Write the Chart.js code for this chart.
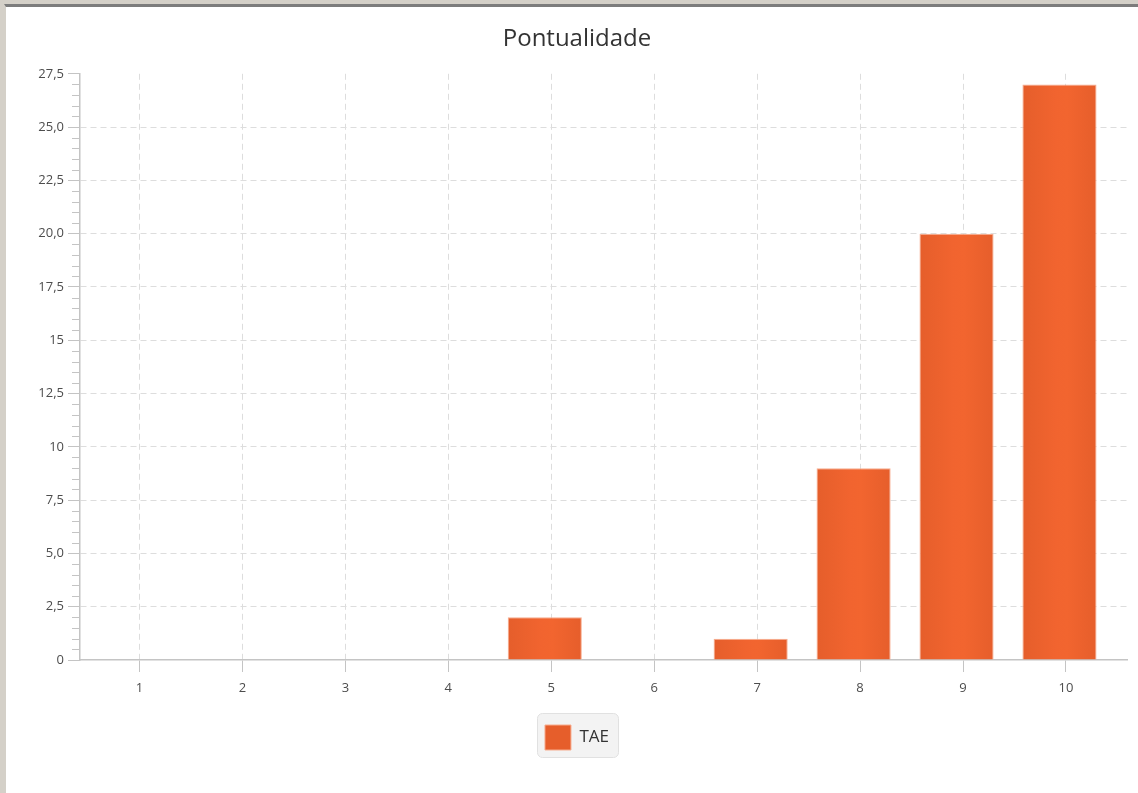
<!DOCTYPE html>
<html lang="pt-BR">
<head>
    <meta charset="UTF-8">
    <title>Pontualidade</title>
    <script src="https://cdn.jsdelivr.net/npm/chart.js"></script>
    <style>
        body {
            margin: 0;
            background: #fff;
            font-family: 'Open Sans', sans-serif;
        }
        #frame {
            position: absolute;
            left: 0;
            top: 0;
            width: 1138px;
            height: 793px;
            background: #d4d0c8;
            overflow: hidden;
        }
        #panel {
            position: absolute;
            left: 4px;
            top: 4px;
            width: 1134px;
            height: 789px;
            border-top: 3px solid #7c7c7c;
            border-left: 2px solid #d4d0c8;
            box-sizing: border-box;
            background: #fff;
        }
        #chart-box {
            position: absolute;
            left: 0;
            top: 0;
            width: 1132px;
            height: 786px;
        }
    </style>
</head>
<body>
<div id="frame">
    <div id="panel">
        <div id="chart-box">
            <canvas id="chart"></canvas>
        </div>
    </div>
</div>

<script>
    // dados
    const categories = [1, 2, 3, 4, 5, 6, 7, 8, 9, 10];
    const taeValues = [0, 0, 0, 0, 2, 0, 1, 9, 20, 27];
    const yTickValues = [0, 2.5, 5, 7.5, 10, 12.5, 15, 17.5, 20, 22.5, 25, 27.5];
    const yTickLabels = ['0', '2,5', '5,0', '7,5', '10', '12,5', '15', '17,5', '20,0', '22,5', '25,0', '27,5'];

    // no original as barras ficam um pouco à esquerda do traço da categoria
    const tickShift = 0.063;

    Chart.defaults.font.family = "'Open Sans', sans-serif";

    // barras com leve degradê horizontal
    function barFill(c) {
        const chart = c.chart;
        const xs = chart.scales.x;
        if (c.type !== 'data' || !xs || !isFinite(xs.width) || xs.width <= 0) return '#ef612d';
        const cx = xs.getPixelForValue(categories[c.dataIndex]);
        const half = (xs.getPixelForValue(2) - xs.getPixelForValue(1)) * 0.36;
        const g = chart.ctx.createLinearGradient(cx - half, 0, cx + half, 0);
        g.addColorStop(0, '#e55e2b');
        g.addColorStop(0.45, '#f1642f');
        g.addColorStop(0.6, '#f2652f');
        g.addColorStop(1, '#e65e2b');
        return g;
    }

    // tracinhos menores do eixo Y
    const minorTicks = {
        id: 'minorTicks',
        afterDraw(chart) {
            const ys = chart.scales.y;
            const left = chart.chartArea.left;
            const ctx = chart.ctx;
            ctx.save();
            ctx.strokeStyle = '#c4c4c4';
            ctx.lineWidth = 1;
            for (let v = ys.min; v <= ys.max + 1e-9; v += 0.5) {
                const r = v / 2.5;
                if (Math.abs(r - Math.round(r)) < 1e-6) continue;
                const py = Math.round(ys.getPixelForValue(v)) + 0.5;
                ctx.beginPath();
                ctx.moveTo(left - 8, py);
                ctx.lineTo(left, py);
                ctx.stroke();
            }
            ctx.restore();
        }
    };

    // caixa arredondada atrás da legenda
    const legendBox = {
        id: 'legendBox',
        beforeDraw(chart) {
            const boxes = chart.legend && chart.legend.legendHitBoxes;
            if (!boxes || !boxes.length) return;
            const h = boxes[0];
            const ctx = chart.ctx;
            const x = h.left - 8, y = h.top - 12;
            const w = h.width + 17, hh = h.height + 19;
            ctx.save();
            ctx.fillStyle = '#f3f3f3';
            ctx.strokeStyle = '#e1e1e1';
            ctx.lineWidth = 1;
            ctx.beginPath();
            ctx.roundRect(x + 0.5, y + 0.5, w, hh, 5);
            ctx.fill();
            ctx.stroke();
            ctx.restore();
        }
    };

    const ctx = document.getElementById('chart').getContext('2d');
    const chart = new Chart(ctx, {
        type: 'bar',
        data: {
            labels: categories,
            datasets: [{
                label: 'TAE',
                data: taeValues,
                backgroundColor: barFill,
                borderColor: '#f7ad8f',
                borderWidth: 1,
                barPercentage: 0.72,
                categoryPercentage: 1
            }]
        },
        plugins: [minorTicks, legendBox],
        options: {
            responsive: true,
            maintainAspectRatio: false,
            animation: false,
            layout: {
                padding: { left: 21, right: 11, top: 0, bottom: 33 }
            },
            plugins: {
                title: {
                    display: true,
                    text: 'Pontualidade',
                    color: '#333333',
                    font: { size: 24, weight: 'normal' },
                    padding: { top: 18, bottom: 20 }
                },
                legend: {
                    position: 'bottom',
                    labels: {
                        boxWidth: 26,
                        boxHeight: 25,
                        padding: 25,
                        color: '#333333',
                        font: { size: 17 }
                    }
                },
                tooltip: { enabled: true }
            },
            scales: {
                x: {
                    type: 'linear',
                    min: 0.485,
                    max: 10.656,
                    offset: false,
                    afterBuildTicks: s => { s.ticks = categories.map(v => ({ value: v + tickShift })); },
                    afterFit: s => { s.height = 40; },
                    ticks: {
                        callback: v => String(Math.round(v)),
                        color: '#4d4d4d',
                        font: { size: 13 },
                        padding: 8,
                        autoSkip: false,
                        maxRotation: 0
                    },
                    grid: {
                        offset: false,
                        color: '#dddddd',
                        lineWidth: 1,
                        tickColor: '#c4c4c4',
                        tickLength: 12,
                        tickBorderDash: []
                    },
                    border: { color: '#c4c4c4', width: 1.5, dash: [6, 4] }
                },
                y: {
                    min: 0,
                    max: 27.5,
                    afterBuildTicks: s => { s.ticks = yTickValues.map(v => ({ value: v })); },
                    afterFit: s => { s.width = 53; },
                    ticks: {
                        callback: v => yTickLabels[yTickValues.indexOf(v)],
                        color: '#4d4d4d',
                        font: { size: 13 },
                        padding: 4
                    },
                    grid: {
                        color: c => (c.tick && (c.tick.value === 0 || c.tick.value === 27.5)) ? 'rgba(0,0,0,0)' : '#dddddd',
                        lineWidth: 1,
                        tickColor: '#c4c4c4',
                        tickLength: 12,
                        tickBorderDash: []
                    },
                    border: { color: '#c4c4c4', width: 1.5, dash: [6, 4] }
                }
            }
        }
    });
</script>
</body>
</html>
